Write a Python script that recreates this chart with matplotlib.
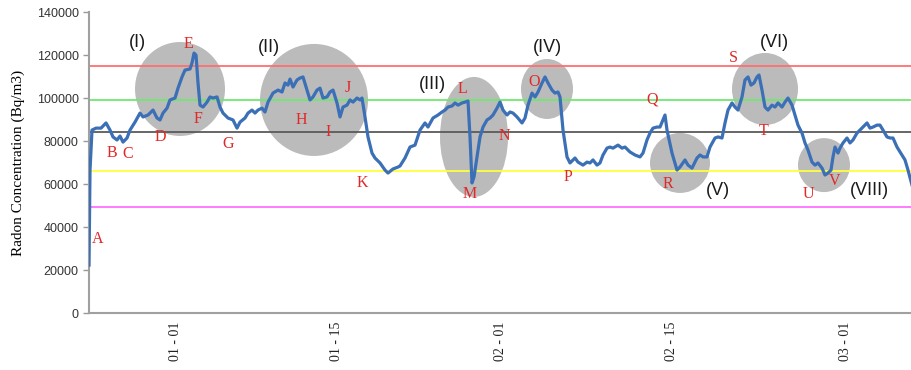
import numpy as np
import matplotlib
matplotlib.use("Agg")
import matplotlib.pyplot as plt
from matplotlib.patches import Ellipse

# sample index along the record and radon concentration (Bq/m3)
sample = [0, 1, 3, 7, 12, 17, 21, 24, 28, 31, 34, 38, 41, 46, 51, 54, 59, 64, 68, 71,
          74, 78, 81, 86, 89, 93, 96, 101, 103, 105, 107, 109, 111, 114, 118, 121, 124, 128, 131, 134,
          139, 144, 148, 151, 156, 159, 163, 166, 169, 173, 176, 179, 184, 189, 193, 196, 199, 201, 204, 208,
          211, 214, 218, 221, 224, 228, 231, 234, 238, 241, 244, 248, 251, 254, 258, 261, 264, 268, 271, 273,
          276, 279, 283, 286, 291, 296, 299, 304, 309, 311, 316, 321, 326, 331, 336, 339, 344, 349, 353, 356,
          359, 363, 366, 369, 373, 376, 379, 381, 383, 385, 388, 391, 394, 398, 401, 404, 408, 411, 414, 418,
          421, 424, 428, 433, 436, 439, 443, 446, 449, 453, 456, 459, 463, 466, 469, 471, 474, 478, 481, 486,
          489, 494, 498, 501, 504, 508, 511, 514, 518, 521, 524, 529, 533, 536, 541, 546, 551, 554, 558, 561,
          564, 568, 571, 574, 576, 578, 583, 588, 591, 596, 599, 603, 608, 611, 614, 618, 621, 626, 629, 633,
          636, 639, 643, 646, 649, 653, 656, 659, 662, 665, 668, 670, 673, 676, 679, 683, 686, 689, 693, 696,
          699, 703, 706, 709, 713, 716, 719, 723, 726, 729, 733, 736, 739, 742, 744, 746, 749, 751, 754, 758,
          761, 764, 768, 771, 774, 778, 781, 784, 788, 791, 794, 798, 801, 804, 808, 813, 816, 819, 823]
radon = [22300, 66500, 85100, 86000, 86000, 88400, 85100, 81900, 80500, 82300, 79500, 81400, 85100, 88800, 93000, 91200, 92100, 94400, 90700, 89800,
         93000, 95300, 99100, 100000, 104600, 109800, 113000, 113500, 116300, 120900, 120000, 107000, 96700, 95800, 98100, 100500, 100000, 100500, 95800, 93000,
         90700, 89800, 86000, 88800, 90700, 93000, 94400, 93000, 94400, 95300, 93500, 98100, 102300, 103700, 102800, 107000, 106000, 108800, 105100, 108400,
         109300, 109800, 103700, 99100, 100500, 103700, 104600, 100000, 100500, 102800, 103700, 97700, 91200, 95800, 96700, 99100, 98100, 100000, 99100, 100000,
         91200, 81900, 74400, 72100, 69800, 66500, 65100, 67000, 67900, 68400, 72100, 77200, 78100, 85100, 88400, 86500, 90700, 92100, 93500, 94400,
         95800, 96300, 97700, 96700, 97700, 98100, 98600, 81900, 60500, 63300, 72600, 81900, 86500, 89800, 90700, 92100, 95300, 98100, 94400, 92100,
         93500, 93000, 91200, 88400, 90700, 96700, 102300, 100500, 102800, 107000, 109800, 107000, 103700, 102300, 102800, 100500, 85100, 72600, 69800, 72100,
         70200, 68800, 70200, 69800, 71200, 68800, 69800, 73500, 76700, 77200, 76700, 78100, 76700, 77200, 74900, 73500, 72600, 74400, 80500, 83700,
         86000, 86500, 86500, 89800, 92100, 85100, 74400, 66500, 67900, 71200, 68800, 67400, 72100, 73500, 72600, 72600, 77200, 81400, 81900, 81400,
         88400, 94400, 97700, 95800, 94400, 100500, 108400, 109800, 106000, 107000, 109800, 110700, 103700, 95800, 94400, 96700, 95800, 97700, 95800, 98100,
         100000, 96700, 92100, 87400, 83700, 79100, 75800, 70200, 68800, 69800, 67400, 64200, 65100, 66500, 72600, 77200, 74400, 76700, 79100, 81400,
         79100, 80500, 83700, 85100, 86500, 88400, 86000, 86500, 87400, 87400, 85100, 81900, 81400, 81400, 77200, 73500, 71200, 66500, 59500]

tick_pos = [86, 247, 411, 582, 756]
tick_labels = ["01 - 01", "01 - 15", "02 - 01", "02 - 15", "03 - 01"]

ref_levels = [115000, 99000, 84000, 66000, 49300]
ref_colors = ["#ff6f6f", "#6fe86f", "#5a5a5a", "#ffff3c", "#ff6fff"]

letters = list("ABCDEFGHIJKLMNOPQRSTUV")
letter_x = [9, 23, 39, 71, 99, 109, 139, 212, 239, 259, 273, 373, 381, 415, 445, 479, 563, 579, 644, 675, 719, 746]
letter_y = [34400, 74400, 74000, 81900, 125100, 90200, 78600, 89800, 84200, 104600, 60500, 104200, 55300, 82300,
            107400, 63300, 99500, 60000, 118600, 84600, 55300, 61400]

groups = ["(I)", "(II)", "(III)", "(IV)", "(V)", "(VI)", "(VIII)"]
group_x = [48, 180, 343, 458, 629, 685, 780]
group_y = [125600, 123300, 106500, 123300, 57200, 126000, 57200]

# highlighted zones: centre, width (samples), height (Bq/m3)
zone_x = [91, 225, 385, 458, 591, 676, 735]
zone_y = [104200, 99100, 81900, 104200, 69800, 104200, 68800]
zone_w = [90, 108, 68, 52, 60, 66, 52]
zone_h = [43700, 52100, 55800, 27900, 27900, 33500, 25100]

fig = plt.figure(figsize=(9.12, 3.70), dpi=100)
ax = fig.add_axes([0.0976, 0.154, 0.9024, 0.8135])

for cx, cy, w, h in zip(zone_x, zone_y, zone_w, zone_h):
    ax.add_patch(Ellipse((cx, cy), w, h, facecolor="#b4b4b4", edgecolor="none", alpha=0.9, zorder=1))

for lvl, c in zip(ref_levels, ref_colors):
    ax.axhline(lvl, color=c, lw=1.3, zorder=2)

ax.plot(sample, radon, color="#3b6fb6", lw=2.3, zorder=3, solid_joinstyle="round")

for s, x, y in zip(letters, letter_x, letter_y):
    ax.text(x, y, s, color="#e02828", fontsize=11.5, family="Liberation Serif",
            ha="center", va="center", zorder=4)
for s, x, y in zip(groups, group_x, group_y):
    ax.text(x, y, s, color="#1a1a1a", fontsize=13, family="Liberation Sans",
            ha="center", va="center", zorder=4)

ax.set_xlim(0, 823)
ax.set_ylim(0, 140000)
ax.set_yticks(np.arange(0, 140001, 20000))
ax.set_yticklabels([str(v) for v in range(0, 140001, 20000)], family="Liberation Sans",
                   fontsize=9, color="#333333")
ax.set_xticks(tick_pos)
ax.set_xticklabels(tick_labels, rotation=90, family="Liberation Serif", fontsize=10, color="#222222")
ax.tick_params(axis="x", length=0, pad=6)
ax.tick_params(axis="y", length=4, color="#999999", width=1)
ax.set_ylabel("Radon Concentration (Bq/m3)", family="Liberation Serif", fontsize=11, labelpad=8)

for side in ["top", "right"]:
    ax.spines[side].set_visible(False)
for side in ["left", "bottom"]:
    ax.spines[side].set_color("#a0a0a0")
    ax.spines[side].set_linewidth(1.5)

fig.savefig("out.png", dpi=100)
